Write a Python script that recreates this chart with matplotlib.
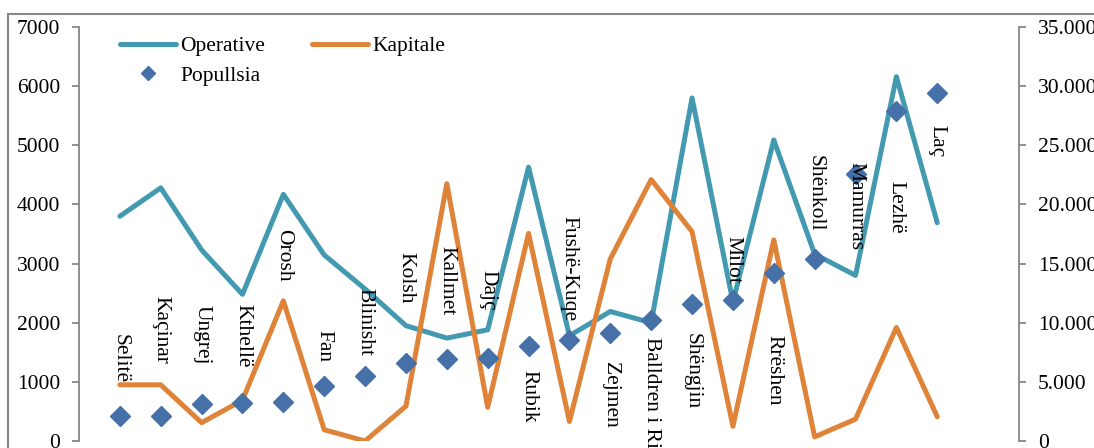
import matplotlib
matplotlib.use("Agg")
import matplotlib.pyplot as plt
from matplotlib.patches import Rectangle
from matplotlib.ticker import FuncFormatter, MultipleLocator
from matplotlib.lines import Line2D

# Datos del grafico
qytetet = ["Selitë", "Kaçinar", "Ungrej", "Kthellë", "Orosh", "Fan", "Blinisht",
           "Kolsh", "Kallmet", "Dajç", "Rubik", "Fushë-Kuqe", "Zejmen",
           "Balldren i Ri", "Shëngjin", "Milot", "Rrëshen", "Shënkoll",
           "Mamurras", "Lezhë", "Laç"]
operative = [3800, 4280, 3230, 2480, 4170, 3145, 2570, 1950, 1740, 1880, 4630,
             1780, 2190, 2000, 5800, 2350, 5090, 3160, 2800, 6160, 3690]
kapitale = [950, 950, 310, 690, 2370, 190, 0, 590, 4350, 570, 3510,
            330, 3080, 4420, 3540, 250, 3400, 70, 370, 1920, 410]
popullsia = [2100, 2100, 3150, 3200, 3300, 4650, 5500, 6620, 6900, 7000, 8000,
             8550, 9150, 10200, 11600, 11900, 14200, 15400, 22600, 27900, 29400]

# desplazamiento vertical de cada etiqueta (pixeles, positivo = abajo)
label_dy = [-58, -86, -69, -67, -147, -40, -54, -85, -79, -68, 50,
            -71, 62, 72, 67, -40, 97, -66, 32, 96, 48]

TEAL = "#4299b0"
NARANJA = "#df8338"
AZUL = "#4670a8"
GRIS = "#868686"
FUENTE = "Liberation Serif"
TAM = 15.5

plt.rcParams["font.family"] = FUENTE

fig = plt.figure(figsize=(10.94, 4.48), dpi=100)
ax = fig.add_axes([79 / 1094, 1 - 441 / 448, 940 / 1094, 414 / 448])
ax2 = ax.twinx()

x = list(range(1, len(qytetet) + 1))

l1, = ax.plot(x, operative, color=TEAL, lw=3.6, solid_capstyle="round",
              solid_joinstyle="round")
l2, = ax.plot(x, kapitale, color=NARANJA, lw=3.6, solid_capstyle="round",
              solid_joinstyle="round")
ax2.plot(x, popullsia, linestyle="none", marker="D", markersize=10.5,
         color=AZUL, zorder=3)

# etiquetas de las ciudades
for xi, yi, nombre, dy in zip(x, popullsia, qytetet, label_dy):
    ax2.annotate(nombre, (xi, yi), xytext=(0, -dy), textcoords="offset pixels",
                 rotation=270, ha="center", va="center", fontsize=TAM,
                 color="black", zorder=5, annotation_clip=False)

ax.set_xlim(0, 23)
ax.set_ylim(0, 7000)
ax2.set_ylim(0, 35000)
ax.yaxis.set_major_locator(MultipleLocator(1000))
ax2.yaxis.set_major_locator(MultipleLocator(5000))
ax2.yaxis.set_major_formatter(FuncFormatter(lambda v, _: f"{int(v):,}".replace(",", ".")))

for a in (ax, ax2):
    for s in ("top", "bottom"):
        a.spines[s].set_visible(False)
    a.tick_params(axis="y", direction="out", length=5, width=1.3, color=GRIS,
                  labelsize=TAM, pad=8.5)
    a.set_xticks([])
ax.spines["right"].set_visible(False)
ax2.spines["left"].set_visible(False)
ax.spines["left"].set_color(GRIS)
ax.spines["left"].set_linewidth(1.3)
ax2.spines["right"].set_color(GRIS)
ax2.spines["right"].set_linewidth(1.3)
ax.patch.set_visible(False)

# leyenda
h_pop = Line2D([], [], linestyle="none", marker="D", markersize=7, color=AZUL)
ax2.legend([l1, h_pop, l2], ["Operative", "Popullsia", "Kapitale"], ncol=2,
           loc="upper left", bbox_to_anchor=(0.0436, 0.978), frameon=False,
           fontsize=TAM, handlelength=2.6, handletextpad=0.2,
           columnspacing=2.2, labelspacing=0.45, borderpad=0, borderaxespad=0)

# marco del area del grafico
fig.add_artist(Rectangle((8 / 1094, -0.2), 1.2, 1 - 14 / 448 + 0.2,
                         transform=fig.transFigure, fill=False,
                         edgecolor=GRIS, lw=1.5))

fig.savefig("out.png", dpi=100)
